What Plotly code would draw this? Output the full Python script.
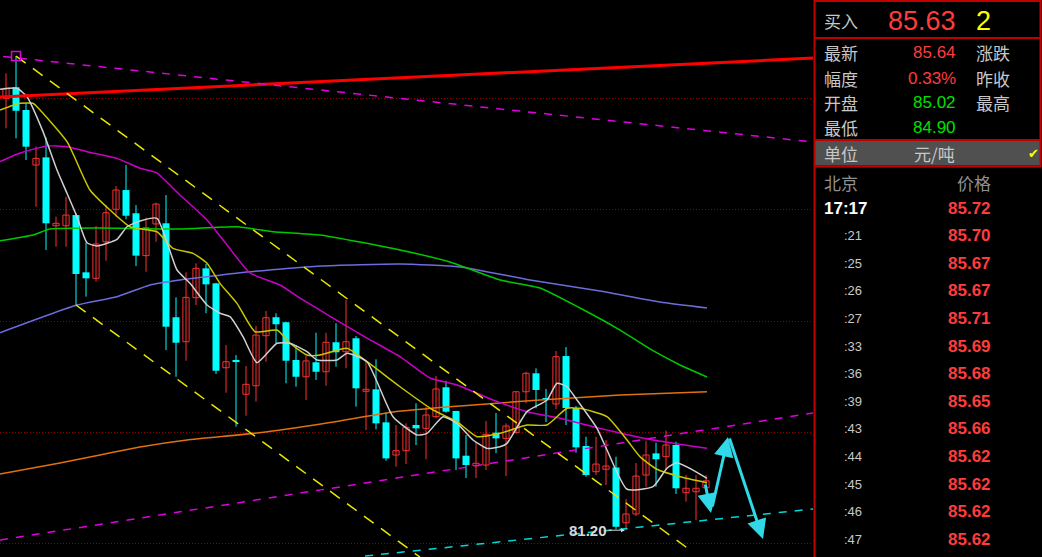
import plotly.graph_objects as go

W, H = 1042, 557

# ---------------- candle data (index 0..70) ----------------
opens = [120.04, 121.03, 118.99, 114.04, 114.73, 108.58, 108.58, 109.54, 104.39, 103.85,
         107.14, 110.06, 111.79, 109.70, 105.89, 108.74, 108.80, 100.35, 98.15, 102.11,
         104.75, 103.40, 95.81, 96.51, 93.42, 94.19, 98.69, 100.35, 99.90, 96.51,
         95.00, 96.30, 95.45, 98.10, 97.25, 98.46, 93.69, 93.87, 90.90, 87.96,
         88.35, 90.66, 90.36, 91.41, 94.05, 91.92, 87.90, 87.00, 87.06, 89.97,
         89.46, 89.97, 93.65, 95.31, 93.09, 92.55, 96.86, 92.19, 88.77, 86.46,
         86.68, 86.84, 81.87, 82.66, 86.16, 88.11, 87.81, 88.86, 84.57, 84.66,
         85.02]
highs = [122.29, 123.84, 119.59, 115.69, 116.53, 109.39, 111.19, 109.70, 107.05, 108.56,
         110.44, 112.15, 114.04, 110.44, 109.30, 110.65, 111.34, 102.14, 104.39, 105.20,
         105.14, 103.45, 97.85, 96.95, 95.97, 99.56, 100.91, 100.71, 99.95, 97.85,
         96.89, 98.96, 98.96, 99.81, 101.90, 98.66, 96.35, 96.57, 91.80, 90.66,
         90.81, 92.61, 92.31, 95.07, 94.64, 91.95, 89.76, 89.16, 91.02, 91.74,
         90.81, 93.70, 95.45, 95.76, 93.90, 97.31, 97.67, 92.37, 89.61, 89.61,
         89.31, 87.81, 84.01, 87.24, 89.25, 89.07, 90.15, 89.16, 86.16, 86.16,
         86.16]
lows = [117.34, 116.44, 114.49, 110.29, 106.40, 106.69, 106.69, 101.45, 102.20, 103.55,
        105.44, 109.39, 109.16, 104.96, 104.45, 107.14, 97.40, 95.00, 96.44, 101.45,
        100.71, 95.25, 93.56, 90.51, 91.50, 92.76, 96.35, 98.01, 94.41, 94.10,
        92.91, 94.71, 94.19, 95.90, 95.76, 92.31, 90.21, 90.27, 87.45, 86.91,
        87.15, 88.86, 87.58, 91.26, 91.77, 86.61, 85.89, 85.89, 86.61, 88.14,
        86.07, 89.91, 92.61, 92.16, 90.93, 92.10, 90.66, 88.17, 86.01, 86.16,
        85.26, 81.28, 81.20, 82.48, 85.11, 85.11, 86.61, 84.46, 83.76, 82.12,
        84.90]
closes = [120.94, 118.92, 115.69, 114.64, 108.80, 108.80, 109.54, 104.24, 103.85, 106.94,
          109.75, 111.79, 109.48, 105.89, 108.40, 110.53, 99.50, 98.06, 102.14, 104.75,
          103.31, 95.54, 96.35, 96.32, 94.32, 98.75, 100.31, 99.72, 96.44, 95.00,
          96.42, 95.45, 98.10, 97.20, 98.15, 93.96, 93.87, 90.81, 87.66, 88.35,
          90.45, 90.36, 91.56, 93.90, 91.86, 87.66, 87.06, 87.22, 89.82, 89.46,
          90.57, 93.65, 95.31, 93.81, 92.91, 96.80, 92.19, 88.65, 86.16, 87.15,
          86.97, 81.51, 82.66, 86.07, 87.96, 87.58, 88.86, 84.97, 84.97, 84.97,
          85.64]

# ---------------- moving average lines (sampled) ----------------
ma5_x = [-0.6, 1.1, 2.1, 3.7, 5.1, 6.1, 7.1, 8.1, 9.1, 11.1, 12.1, 13.4, 15.1, 17.1, 18.4,
         20.1, 21.4, 22.4, 23.7, 25.1, 27.1, 28.4, 30.1, 31.1, 33.1, 34.1, 36.1, 38.7, 41.1,
         42.1, 43.7, 45.1, 46.7, 48.1, 49.4, 50.1, 52.1, 54.1, 55.1, 56.1, 57.1, 59.1, 60.1,
         62.1, 64.7, 66.1, 67.1, 68.7, 70.1]
ma5_y = [120.85, 120.94, 120.18, 117.04, 113.59, 111.50, 109.39, 107.05, 106.76, 107.36,
         108.49, 109.01, 109.25, 104.60, 103.40, 101.45, 100.71, 100.40, 98.60, 96.26,
         98.01, 98.01, 97.25, 96.51, 96.51, 97.11, 96.35, 91.41, 89.76, 89.91, 91.41,
         90.81, 89.31, 88.56, 88.71, 89.01, 91.86, 92.91, 94.41, 94.10, 92.91, 90.36,
         88.41, 84.88, 85.11, 86.77, 87.27, 86.61, 85.87]
ma10_x = [-0.6, 1.4, 2.7, 3.1, 6.1, 8.4, 10.4, 12.4, 15.1, 16.7, 18.7, 20.1, 21.4, 23.1,
          24.9, 27.1, 28.4, 30.1, 31.4, 34.1, 36.1, 39.4, 42.7, 45.1, 47.1, 49.4, 52.1,
          54.1, 56.1, 57.4, 60.1, 62.1, 63.4, 65.1, 67.4, 70.1]
ma10_y = [118.99, 119.59, 119.59, 119.28, 116.14, 111.79, 109.99, 108.49, 108.04, 106.55,
          106.10, 105.20, 103.40, 101.60, 99.05, 99.20, 98.01, 96.95, 96.95, 97.56, 96.35,
          94.10, 92.01, 90.96, 89.61, 89.91, 90.66, 90.66, 92.16, 92.16, 91.41, 89.31,
          87.81, 86.68, 86.01, 85.47]
ma20_x = [-0.6, 1.4, 4.1, 6.1, 8.1, 11.1, 13.4, 15.1, 17.4, 20.1, 22.1, 24.4, 27.4, 29.4,
          32.7, 36.1, 39.4, 42.4, 45.1, 48.7, 52.1, 55.4, 58.7, 61.4, 64.7, 70.1]
ma20_y = [114.34, 115.12, 115.75, 115.69, 115.24, 114.64, 113.75, 113.32, 111.34, 109.10,
          106.85, 104.33, 103.25, 102.08, 100.28, 98.48, 96.80, 94.89, 94.26, 92.91, 91.86,
          91.26, 90.51, 89.94, 89.31, 88.56]
ma60_x = [-0.6, 2.7, 4.4, 9.4, 17.4, 23.1, 26.7, 31.4, 39.4, 44.4, 49.4, 53.4, 57.4, 61.4,
          64.7, 67.4, 70.1]
ma60_y = [107.23, 107.75, 108.29, 108.38, 108.29, 108.49, 108.04, 107.75, 106.40, 105.32,
          103.70, 102.98, 101.18, 99.20, 97.34, 96.06, 94.98]
ma120_x = [-0.6, 7.1, 11.1, 14.4, 17.4, 20.1, 23.4, 31.4, 39.4, 45.4, 52.4, 59.4, 65.4, 70.1]
ma120_y = [98.96, 101.45, 102.20, 103.25, 103.70, 104.00, 104.36, 104.96, 105.14, 104.87,
           103.70, 102.71, 101.72, 101.18]
ma250_x = [-0.6, 5.4, 9.4, 13.4, 18.1, 25.1, 32.1, 38.7, 45.4, 53.4, 61.4, 70.1]
ma250_y = [86.25, 87.24, 87.96, 88.68, 89.31, 89.94, 90.84, 91.83, 92.37, 92.91, 93.36, 93.65]

# ---------------- drawn trend lines ----------------
red_trend_x, red_trend_y = [-0.6, 80.7], [120.16, 123.66]
mag_top_x, mag_top_y = [-0.3, 80.7], [123.80, 116.11]
mag_low_x, mag_low_y = [-0.6, 80.7], [80.32, 91.74]
yel_up_x, yel_up_y = [1.0, 68.4], [123.84, 79.42]
yel_dn_x, yel_dn_y = [7.0, 41.4], [101.45, 78.78]
cyan_sup_x, cyan_sup_y = [35.9, 80.7], [78.88, 83.11]
# forecast arrows: (tail_x, tail_y, head_x, head_y)
arrows = [(69.9, 85.44, 70.5, 82.75), (70.6, 83.20, 72.2, 89.58), (72.3, 89.58, 75.7, 80.41)]
low_label = "81.20"

# ---------------- quote panel data ----------------
bid_label, bid_price, bid_vol = "买入", "85.63", "2"
info_rows = [("最新", "85.64", "#ff3c3c", "涨跌"),
             ("幅度", "0.33%", "#ff3c3c", "昨收"),
             ("开盘", "85.02", "#00e000", "最高"),
             ("最低", "84.90", "#00e000", "")]
unit_label, unit_value = "单位", "元/吨"
tick_times = ["17:17", ":21", ":25", ":26", ":27", ":33", ":36", ":39", ":43", ":44", ":45", ":46", ":47"]
tick_prices = ["85.72", "85.70", "85.67", "85.67", "85.71", "85.69", "85.68", "85.65", "85.66",
               "85.62", "85.62", "85.62", "85.62"]

RED = "#ff3030"
CYAN = "#00ffff"
n = len(opens)
idx = list(range(n))
up = [i for i in idx if closes[i] >= opens[i]]
dn = [i for i in idx if closes[i] < opens[i]]

fig = go.Figure()


def wicks(ids):
    xs, ys = [], []
    for i in ids:
        xs += [i, i, None]
        ys += [lows[i], highs[i], None]
    return xs, ys


for ids, col in ((up, RED), (dn, CYAN)):
    xs, ys = wicks(ids)
    fig.add_trace(go.Scatter(x=xs, y=ys, mode="lines", line=dict(color=col, width=1),
                             hoverinfo="skip", showlegend=False))

fig.add_trace(go.Bar(x=up, base=[min(opens[i], closes[i]) for i in up],
                     y=[max(abs(closes[i] - opens[i]), 0.12) for i in up],
                     width=0.62, marker=dict(color="black", line=dict(color=RED, width=1)),
                     showlegend=False))
fig.add_trace(go.Bar(x=dn, base=[min(opens[i], closes[i]) for i in dn],
                     y=[max(abs(closes[i] - opens[i]), 0.12) for i in dn],
                     width=0.7, marker=dict(color=CYAN, line=dict(width=0)),
                     showlegend=False))

for xs, ys, col in ((ma250_x, ma250_y, "#e07010"), (ma120_x, ma120_y, "#6c6cdc"),
                    (ma60_x, ma60_y, "#00c800"), (ma20_x, ma20_y, "#c800c8"),
                    (ma10_x, ma10_y, "#c8c800"), (ma5_x, ma5_y, "#d0d0d0")):
    fig.add_trace(go.Scatter(x=xs, y=ys, mode="lines",
                             line=dict(color=col, width=1.5, shape="spline", smoothing=0.5),
                             hoverinfo="skip", showlegend=False))

fig.add_trace(go.Scatter(x=red_trend_x, y=red_trend_y, mode="lines",
                         line=dict(color="#ff0000", width=3), showlegend=False))
for xs, ys, col, dash in ((mag_top_x, mag_top_y, "#e000e0", "8px,8px"),
                          (mag_low_x, mag_low_y, "#e000e0", "8px,8px"),
                          (yel_up_x, yel_up_y, "#e8e800", "12px,9px"),
                          (yel_dn_x, yel_dn_y, "#e8e800", "12px,9px"),
                          (cyan_sup_x, cyan_sup_y, "#00d8d8", "8px,8px")):
    fig.add_trace(go.Scatter(x=xs, y=ys, mode="lines", line=dict(color=col, width=1.5, dash=dash),
                             showlegend=False))

# high marker
hi_i = max(idx, key=lambda i: highs[i])
fig.add_trace(go.Scatter(x=[hi_i], y=[highs[hi_i]], mode="markers",
                         marker=dict(symbol="square-open", size=9, color="#e000e0", line=dict(width=1.5)),
                         showlegend=False))

annotations = []
for tx, ty, hx, hy in arrows:
    annotations.append(dict(x=hx, y=hy, ax=tx, ay=ty, xref="x", yref="y", axref="x", ayref="y",
                            text="", showarrow=True, arrowhead=2, arrowsize=1.3, arrowwidth=3,
                            arrowcolor="#30d8e8"))
lo_i = min(idx, key=lambda i: lows[i])
annotations.append(dict(x=lo_i, y=lows[lo_i], xref="x", yref="y", text="<b>" + low_label + "</b>",
                        showarrow=True, ax=-38, ay=0, arrowhead=2, arrowsize=0.8, arrowwidth=1,
                        arrowcolor="#d8d8d8", standoff=1,
                        font=dict(family="Liberation Sans", size=15, color="#d8d8d8")))


def px(x):
    return x / W


def py(y):
    return 1 - y / H


def txt(x, y, s, color, size, anchor="left", family="Noto Sans CJK SC"):
    annotations.append(dict(x=px(x), y=py(y), xref="paper", yref="paper", text=s, showarrow=False,
                            xanchor=anchor, yanchor="middle",
                            font=dict(family=family, size=size, color=color)))


NUMF = "Liberation Sans"
txt(822, 20, bid_label, "#c8c8c8", 17)
txt(958, 21, bid_price, "#ff3c3c", 27, "right", NUMF)
txt(974, 21, bid_vol, "#ffff00", 27, "left", NUMF)
row_y = [53, 78, 103, 127]
for (lab, val, col, lab2), yy in zip(info_rows, row_y):
    txt(822, yy, lab, "#c8c8c8", 17)
    txt(958, yy, val, col, 17, "right", NUMF)
    if lab2:
        txt(974, yy, lab2, "#c8c8c8", 17)
txt(822, 153, unit_label, "#c8c8c8", 17)
txt(934, 153, unit_value, "#c8c8c8", 17, "center")
txt(1033, 153, "✔", "#ffff00", 13, "center", "DejaVu Sans")
txt(822, 182, "北京", "#909090", 17)
txt(993, 182, "价格", "#909090", 17, "right")
for k, (tm, pr) in enumerate(zip(tick_times, tick_prices)):
    yy = 208 + k * 27.6
    if k == 0:
        txt(822, yy, "<b>" + tm + "</b>", "#ffffff", 17, "left", NUMF)
    else:
        txt(864, yy, tm, "#c8c8c8", 13, "right", NUMF)
    txt(993, yy, "<b>" + pr + "</b>", "#ff3c3c", 17, "right", NUMF)

shapes = [
    dict(type="rect", xref="paper", yref="paper", x0=px(815), x1=px(1040), y0=py(165.5), y1=py(141),
         fillcolor="#505050", line=dict(width=0), layer="below"),
]
for (x0, y0, x1, y1) in ((814.5, 0, 814.5, 557), (815, 1, 1041, 1), (815, 38, 1041, 38),
                         (815, 140, 1041, 140), (815, 166.5, 1041, 166.5), (1040.5, 0, 1040.5, 167)):
    shapes.append(dict(type="line", xref="paper", yref="paper", x0=px(x0), x1=px(x1), y0=py(y0),
                       y1=py(y1), line=dict(color="#c00000", width=2)))

fig.update_layout(
    width=W, height=H, margin=dict(l=0, r=0, t=0, b=0),
    paper_bgcolor="black", plot_bgcolor="black", barmode="overlay",
    showlegend=False, annotations=annotations, shapes=shapes,
    xaxis=dict(domain=[0, 813 / W], range=[-0.6, 80.7], showgrid=False, zeroline=False,
               showticklabels=False, showline=False, fixedrange=True),
    yaxis=dict(range=[78.79, 128.88], tickvals=[80, 90, 100, 110, 120], showticklabels=False,
               gridcolor="#900000", griddash="1px,2px", gridwidth=1, zeroline=False,
               showline=False, fixedrange=True),
)

fig.write_html("out.html", config={"displayModeBar": False},
               post_script="document.body.style.margin='0';document.body.style.padding='0';"
                           "document.body.style.background='black';document.body.style.overflow='hidden';")
